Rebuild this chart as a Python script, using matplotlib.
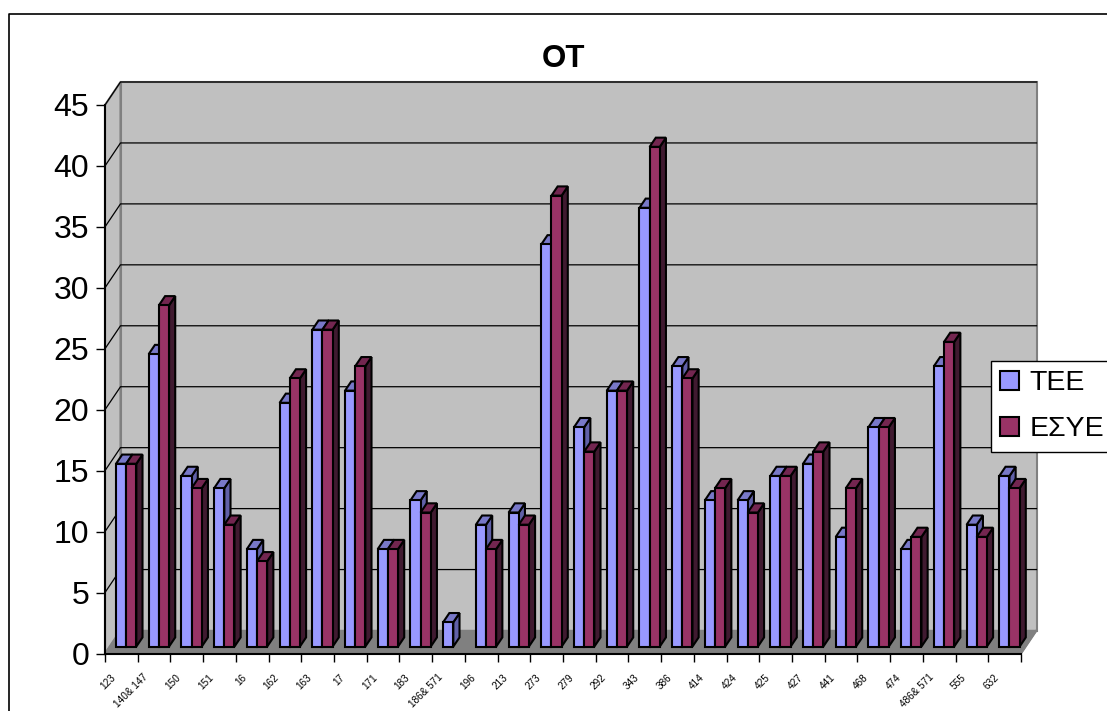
import matplotlib
matplotlib.use('Agg')
import matplotlib.pyplot as plt
from matplotlib.lines import Line2D
from matplotlib.patches import Rectangle
from matplotlib.transforms import ScaledTranslation

plt.rcParams['font.family'] = ['Liberation Sans', 'DejaVu Sans']

labels = ['123', '140& 147', '150', '151', '16', '162', '163', '17', '171', '183',
          '186& 571', '196', '213', '273', '279', '292', '343', '386', '414', '424',
          '425', '427', '441', '468', '474', '486& 571', '555', '632']
tee = [15, 24, 14, 13, 8, 20, 26, 21, 8, 12, 2, 10, 11, 33, 18, 21, 36, 23, 12, 12,
       14, 15, 9, 18, 8, 23, 10, 14]
esye = [15, 28, 13, 10, 7, 22, 26, 23, 8, 11, 0, 8, 10, 37, 16, 21, 41, 22, 13, 11,
        14, 16, 13, 18, 9, 25, 9, 13]
y_ticks = [0, 5, 10, 15, 20, 25, 30, 35, 40, 45]

W, H = 1107, 711
fig = plt.figure(figsize=(W / 100, H / 100), dpi=100, facecolor='white')
ax = fig.add_axes([105 / W, 1 - 653.5 / H, 916 / W, 548.5 / H])
ax.set_xlim(0, 28)
ax.set_ylim(0, 45)
ax.patch.set_visible(False)

# depth of the fake 3d box, in data units
px_x = 28 / 916
px_y = 45 / 548.5
dx = 15.5 * px_x
dy = 23 * px_y


def poly(xs, ys, z, color, edge='black', lw=1.5):
    ax.fill(xs, ys, facecolor=color, edgecolor=edge, linewidth=lw, zorder=z,
            clip_on=False, joinstyle='miter')


# walls
poly([0, dx, dx, 0], [0, dy, 45 + dy, 45], 1, '#c0c0c0', '#808080', 1.5)
poly([dx, 28 + dx, 28 + dx, dx], [dy, dy, 45 + dy, 45 + dy], 1, '#c0c0c0', '#808080', 1.5)
poly([0, 28, 28 + dx, dx], [0, 0, dy, dy], 1.5, '#808080', '#808080', 1)

for t in y_ticks:
    if t > 0:
        ax.plot([0, dx, 28 + dx], [t, t + dy, t + dy], color='black', lw=0.9, zorder=1.2,
                clip_on=False)
ax.plot([28, 28 + dx], [0, dy], color='#808080', lw=1.5, zorder=1.6, clip_on=False)


def bar(x, w, v, z, front, side, top):
    bx = 0.3 * dx
    by = 0.3 * dy
    ddx = 0.4 * dx
    ddy = 0.4 * dy
    x0 = x + bx
    x1 = x0 + w
    poly([x1, x1 + ddx, x1 + ddx, x1], [by, by + ddy, by + ddy + v, by + v], z, side)
    poly([x0, x1, x1 + ddx, x0 + ddx], [by + v, by + v, by + v + ddy, by + v + ddy], z, top)
    poly([x0, x1, x1, x0], [by, by, by + v, by + v], z + 0.1, front)


w = 0.31
for i in range(len(labels)):
    if tee[i] > 0:
        bar(i + 0.195, w, tee[i], 3 + i * 2, '#9999ff', '#6060a8', '#7878c8')
    if esye[i] > 0:
        bar(i + 0.195 + w, w, esye[i], 4 + i * 2, '#993366', '#401a30', '#732650')

for s in ['top', 'right']:
    ax.spines[s].set_visible(False)
for s in ['left', 'bottom']:
    ax.spines[s].set_linewidth(1.5)
    ax.spines[s].set_zorder(2)

ax.set_yticks(y_ticks)
ax.tick_params(axis='y', length=6.5, width=1, labelsize=23, pad=5)
ax.set_xticks(range(29))
ax.set_xticklabels(labels + [''], rotation=45, ha='right', va='center',
                   rotation_mode='anchor', fontsize=7.2)
ax.tick_params(axis='x', length=6, width=1, pad=0)
shift = ScaledTranslation(9 / 100, -14 / 100, fig.dpi_scale_trans)
for lab in ax.get_xticklabels():
    lab.set_transform(lab.get_transform() + shift)

fig.text(563.5 / W, 1 - 59 / H, 'ΟΤ', fontsize=22.5, fontweight='bold', ha='center', va='center')

# chart area border runs off the right and bottom of the crop
fig.add_artist(Line2D([8.5 / W, 8.5 / W, 1], [0, 1 - 13.5 / H, 1 - 13.5 / H], color='black', lw=1.2))

handles = [Rectangle((0, 0), 1, 1, facecolor='#9999ff', edgecolor='black', lw=1.5),
           Rectangle((0, 0), 1, 1, facecolor='#993366', edgecolor='black', lw=1.5)]
leg = fig.legend(handles, ['ΤΕΕ', 'ΕΣΥΕ'], loc='upper left',
                 bbox_to_anchor=(990.5 / W, 1 - 361 / H), fontsize=20.5, frameon=True,
                 fancybox=False, framealpha=1, edgecolor='black', handlelength=0.66,
                 handleheight=0.66, handletextpad=0.38, labelspacing=0.7, borderaxespad=0,
                 borderpad=0.33)
leg.get_frame().set_linewidth(1.0)
leg.set_zorder(100)

fig.savefig('out.png', dpi=100, facecolor='white')
